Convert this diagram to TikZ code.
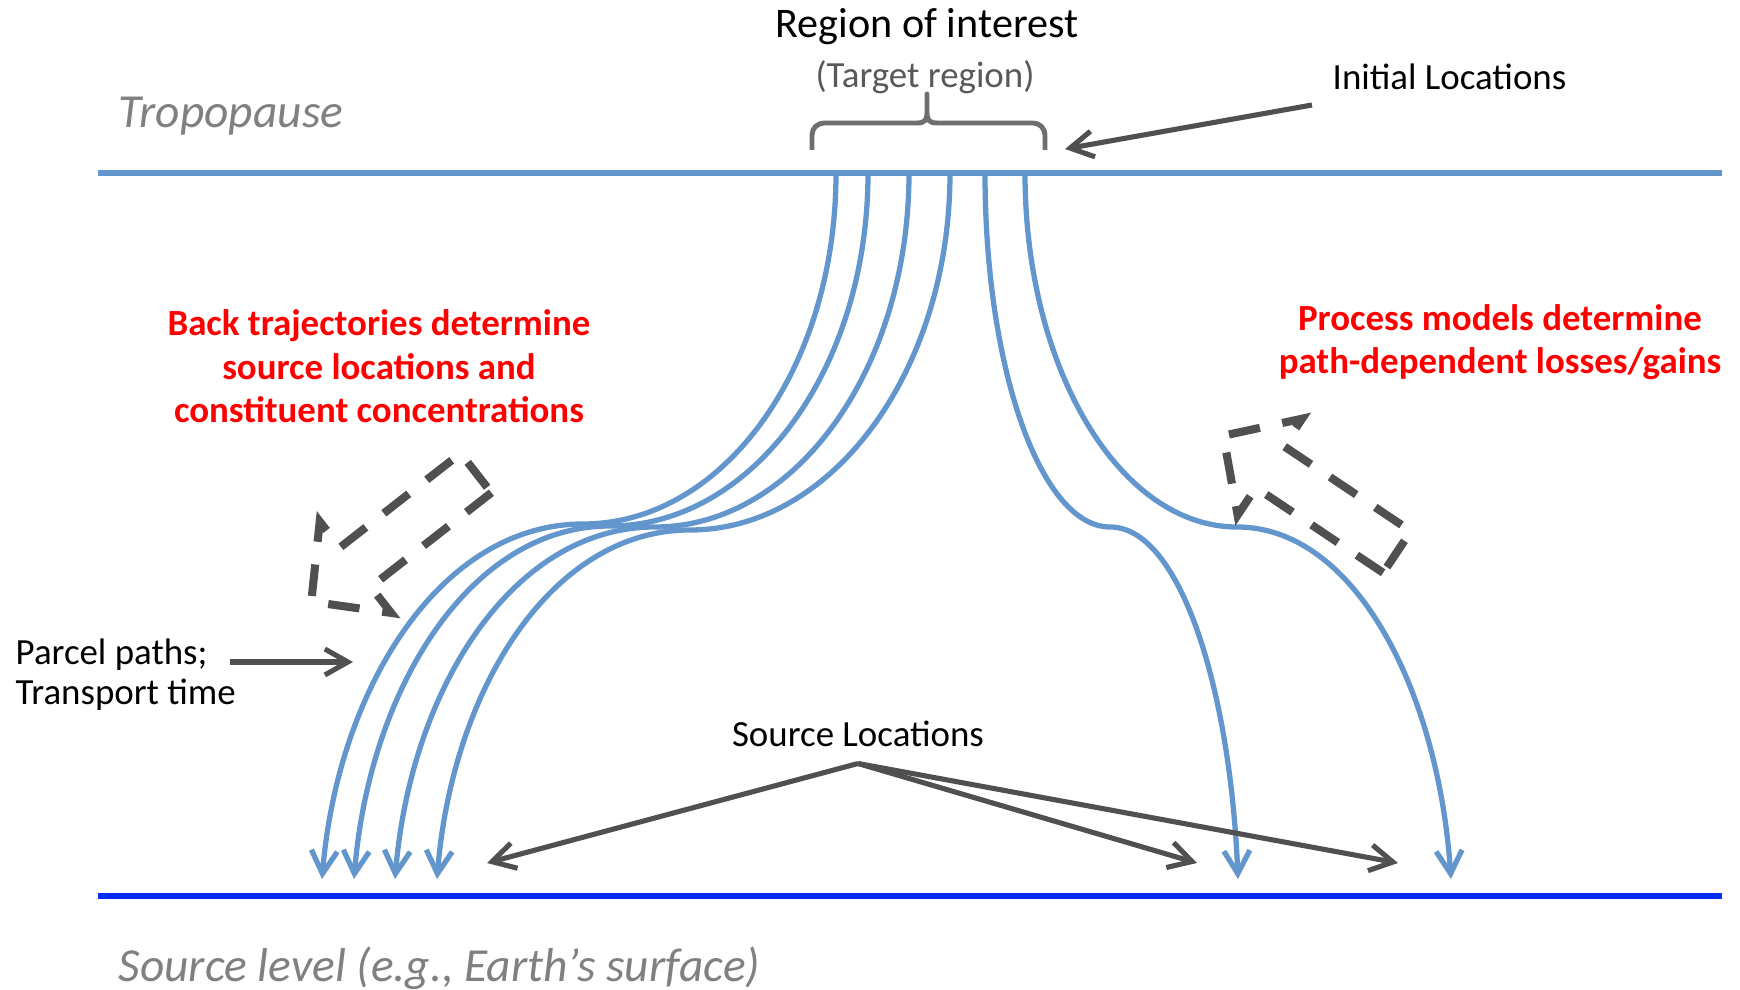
\documentclass[tikz,border=0pt]{standalone}
\usepackage{fontspec}
\setmainfont{Carlito}
\usepackage{tikz}
\usetikzlibrary{arrows.meta}

\definecolor{parcelblue}{RGB}{98,150,205}
\definecolor{levelblue}{RGB}{5,45,250}
\definecolor{arrowgray}{RGB}{80,80,80}
\definecolor{bracegray}{RGB}{110,110,110}
\definecolor{levelgray}{RGB}{128,128,128}
\definecolor{subgray}{RGB}{89,89,89}

\tikzset{
    parcel/.style={draw=parcelblue, line width=1.5pt, -{Straight Barb[length=2.3mm,width=2.6mm]}},
    pointer/.style={draw=arrowgray, line width=1.45pt, -{Straight Barb[length=2.3mm,width=2.6mm]}},
    flowhint/.style={draw=arrowgray, line width=2.3pt, dash pattern=on 9pt off 6.5pt},
    txt/.style={inner sep=0pt, font=\fontsize{10.5pt}{12.5pt}\selectfont},
    redtxt/.style={inner sep=0pt, text=red, align=center, font=\fontsize{10.5pt}{12.5pt}\selectfont\bfseries},
    levelname/.style={inner sep=0pt, text=levelgray, font=\fontsize{13.5pt}{16pt}\selectfont\itshape},
}

\begin{document}
\begin{tikzpicture}
    \useasboundingbox (0,0) rectangle (17.4,9.9);

    % levels
    \draw [parcelblue, line width=1.6pt] (0.98,8.17) -- (17.22,8.17);
    \draw [levelblue, line width=1.8pt] (0.98,0.94) -- (17.22,0.94);
    \node [levelname, anchor=base west] (tropo) at (1.18,8.62) {Tropopause};
    \node [levelname, anchor=base west] (srclevel) at (1.18,0.08) {Source level (e.g., Earth's surface)};

    % region of interest
    \node [txt, font=\fontsize{12pt}{14pt}\selectfont, anchor=base] (roi) at (9.27,9.52) {Region of interest};
    \node [txt, text=subgray, anchor=base] (target) at (9.25,9.02) {(Target region)};
    \draw [bracegray, line width=1.4pt, line join=round]
        (8.12,8.40) -- (8.12,8.55) arc [start angle=180, end angle=90, radius=0.12]
        -- (9.17,8.67) .. controls (9.25,8.67) and (9.27,8.70) .. (9.27,8.78) -- (9.27,8.96)
        -- (9.27,8.78) .. controls (9.27,8.70) and (9.29,8.67) .. (9.37,8.67)
        -- (10.33,8.67) arc [start angle=90, end angle=0, radius=0.12] -- (10.45,8.40);

    \node [txt, anchor=base west] (init) at (13.32,9.00) {Initial Locations};
    \coordinate (initfrom) at (13.12,8.85);
    \coordinate (initto) at (10.65,8.41);
    \draw [pointer] (initfrom) -- (initto);

    % parcel paths: top / waist / bottom
    \foreach \xt/\xw/\yw/\xb in {8.36/5.83/4.66/3.22, 8.68/6.10/4.64/3.54, 9.09/6.55/4.63/3.95,
                                 9.50/6.90/4.60/4.37, 9.85/11.10/4.63/12.38, 10.25/12.37/4.63/14.51}{%
        \draw [parcel] (\xt,8.17) .. controls (\xt,6.2) and ({\xw+0.55*(\xt-\xw)},\yw) .. (\xw,\yw)
            .. controls ({\xw-0.55*(\xw-\xb)},\yw) and ({\xb+0.06*(\xw-\xb)},3.0) .. (\xb,1.11);}

    \node [redtxt, anchor=base] (backtraj) at (3.79,5.67) {Back trajectories determine\\source locations and\\constituent concentrations};
    \node [redtxt, anchor=base] (procmod) at (15.00,6.16) {Process models determine\\path-dependent losses/gains};

    % dashed block arrows
    \begin{scope}[shift={(4.76,5.17)}, rotate=218]
        \draw [flowhint] (0,0.25) -- (1.53,0.25) -- (1.53,0.58) -- (2.09,0) -- (1.53,-0.58) -- (1.53,-0.25) -- (0,-0.25) -- cycle;
    \end{scope}
    \begin{scope}[shift={(13.97,4.38)}, rotate=146.2]
        \draw [flowhint] (0,0.25) -- (1.53,0.25) -- (1.53,0.58) -- (2.09,0) -- (1.53,-0.58) -- (1.53,-0.25) -- (0,-0.25) -- cycle;
    \end{scope}

    \node [txt, align=left, font=\fontsize{10.5pt}{11.5pt}\selectfont, anchor=base west] (paths) at (0.15,2.85) {Parcel paths;\\Transport time};
    \coordinate (pathsfrom) at (2.30,3.28);
    \coordinate (pathsto) at (3.53,3.28);
    \draw [pointer] (pathsfrom) -- (pathsto);

    % source locations
    \node [txt, inner sep=1.65mm, anchor=south] (srcloc) at (8.58,2.265) {Source Locations};
    \coordinate (srcA) at (4.87,1.27);
    \coordinate (srcB) at (11.97,1.27);
    \coordinate (srcC) at (13.98,1.27);
    \foreach \t in {srcA,srcB,srcC}
        \draw [pointer] (srcloc.south) -- (\t);
\end{tikzpicture}
\end{document}
